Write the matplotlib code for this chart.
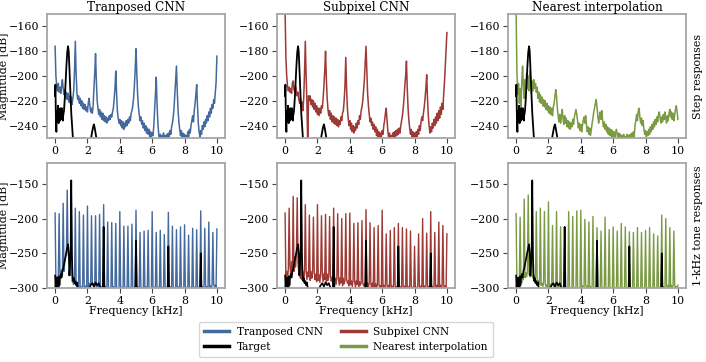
import numpy as np
import matplotlib
matplotlib.use("Agg")
import matplotlib.pyplot as plt
from matplotlib.lines import Line2D

# ---------------- data ----------------
METHODS = ["Tranposed CNN", "Subpixel CNN", "Nearest interpolation"]
ROW_LABELS = ["Step responses", "1-kHz tone responses"]
COLORS = ["#44699d", "#9e3a35", "#7a9a44"]
XTICKS = [0, 2, 4, 6, 8, 10]
YTICKS_STEP = [-160, -180, -200, -220, -240]
YTICKS_TONE = [-150, -200, -250, -300]

# analysis bins (kHz)
FREQ_KHZ = np.round(np.arange(201) * 0.05, 2)

# --- step responses (dB), one value per 0.05-kHz bin ---
step_transposed = [
    -176, -200, -208, -212, -206, -213, -209, -214, -208, -203, -210, -215, -211, -218, -213, -219, -214, -221, -216, -222,
    -217, -223, -218, -212, -196, -172, -198, -214, -219, -216, -222, -218, -224, -220, -226, -222, -227, -223, -228, -225,
    -229, -222, -218, -224, -229, -226, -230, -224, -210, -198, -182, -204, -220, -226, -231, -227, -233, -229, -235, -230,
    -236, -232, -237, -233, -238, -234, -236, -232, -235, -231, -233, -229, -226, -219, -210, -196, -214, -228, -234, -238,
    -235, -240, -236, -242, -237, -243, -238, -241, -236, -240, -235, -238, -233, -236, -230, -228, -224, -218, -208, -195,
    -178, -198, -215, -225, -231, -236, -233, -239, -236, -242, -238, -244, -240, -246, -242, -247, -243, -249, -245, -250,
    -246, -248, -240, -228, -215, -201, -222, -238, -246, -252, -247, -253, -248, -251, -246, -252, -248, -254, -247, -251,
    -246, -249, -244, -247, -241, -238, -233, -226, -215, -205, -192, -212, -228, -237, -243, -248, -244, -250, -246, -252,
    -247, -253, -248, -251, -245, -249, -243, -246, -240, -236, -232, -237, -228, -222, -215, -207, -224, -238, -245, -249,
    -244, -247, -240, -243, -237, -241, -235, -238, -232, -236, -229, -233, -226, -230, -223, -226, -219, -222, -214, -205,
    -184,
]
step_subpixel = [
    -148, -185, -200, -208, -212, -209, -213, -210, -214, -206, -204, -211, -213, -208, -212, -216, -213, -219, -222, -218,
    -225, -221, -228, -218, -198, -172, -200, -222, -258, -216, -220, -216, -223, -219, -225, -220, -227, -222, -229, -224,
    -231, -226, -232, -226, -230, -224, -226, -218, -208, -196, -180, -202, -218, -227, -232, -228, -235, -230, -237, -232,
    -238, -233, -239, -234, -240, -235, -241, -236, -239, -233, -236, -230, -228, -220, -208, -185, -210, -226, -234, -240,
    -236, -243, -238, -245, -240, -246, -241, -244, -238, -242, -236, -239, -232, -235, -228, -225, -220, -212, -203, -190,
    -176, -196, -214, -224, -231, -237, -234, -240, -237, -243, -239, -245, -241, -248, -243, -250, -245, -252, -246, -249,
    -244, -247, -240, -236, -230, -226, -236, -244, -250, -246, -253, -248, -252, -246, -251, -245, -250, -244, -248, -243,
    -247, -242, -246, -240, -236, -232, -226, -218, -208, -200, -188, -210, -226, -236, -242, -247, -243, -250, -245, -252,
    -246, -251, -245, -249, -243, -247, -240, -244, -237, -233, -236, -230, -225, -218, -210, -199, -218, -232, -240, -246,
    -241, -245, -238, -242, -235, -240, -233, -238, -230, -236, -228, -234, -225, -231, -222, -227, -215, -205, -192, -180,
    -165,
]
step_nearest = [
    -148, -195, -215, -206, -222, -210, -226, -205, -192, -208, -218, -203, -214, -198, -210, -200, -212, -196, -205, -214,
    -204, -212, -203, -210, -206, -213, -209, -218, -213, -221, -215, -222, -217, -224, -219, -225, -220, -227, -222, -228,
    -224, -230, -225, -231, -226, -232, -225, -222, -216, -211, -217, -226, -232, -237, -231, -238, -233, -227, -234, -239,
    -232, -238, -234, -241, -236, -242, -237, -243, -238, -241, -235, -239, -233, -230, -227, -231, -236, -242, -238, -244,
    -239, -245, -240, -236, -233, -238, -232, -240, -245, -241, -247, -242, -248, -243, -238, -234, -229, -226, -222, -219,
    -225, -232, -238, -233, -229, -235, -228, -236, -241, -237, -243, -239, -245, -241, -247, -242, -248, -243, -249, -244,
    -250, -245, -251, -246, -243, -247, -252, -246, -251, -247, -253, -248, -252, -247, -254, -249, -252, -247, -253, -248,
    -252, -247, -251, -246, -250, -245, -249, -240, -236, -231, -236, -228, -226, -233, -238, -234, -240, -236, -243, -247,
    -244, -249, -245, -248, -243, -247, -241, -245, -239, -243, -237, -241, -235, -239, -233, -237, -231, -229, -234, -238,
    -233, -237, -231, -235, -229, -234, -238, -232, -236, -230, -227, -233, -229, -235, -230, -236, -231, -227, -224, -229,
    -235,
]
target_step_freq = [
    0.00, 0.02, 0.04, 0.06, 0.08, 0.10, 0.12, 0.14, 0.16, 0.18, 0.20, 0.22, 0.24, 0.26, 0.28, 0.30, 0.32, 0.34,
    0.36, 0.38, 0.40, 0.42, 0.44, 0.46, 0.48, 0.50, 0.55, 0.60, 0.65, 0.70, 0.75, 0.80, 0.84, 0.88, 0.92, 0.96,
    1.00, 1.05, 1.10, 1.15, 1.20, 1.30, 1.60, 2.00, 2.15, 2.25, 2.35, 2.40, 2.45, 2.55, 2.65, 3.00,
]
target_step = [
    -216, -207, -225, -240, -245, -232, -228, -236, -230, -224, -234, -238, -227, -233, -229, -236, -226, -231,
    -235, -228, -232, -226, -234, -229, -236, -232, -228, -218, -205, -192, -181, -176, -180, -192, -205, -218,
    -230, -240, -250, -258, -265, -270, -275, -270, -258, -248, -241, -239, -242, -250, -262, -280,
]

# --- 1-kHz tone responses: harmonic peaks every 0.25 kHz (dB) ---
tone_peaks_transposed = [
    -192, -193, -178, -159, -165, -185, -190, -195, -182, -196, -196, -194, -180, -205, -206, -207, -190, -211, -211, -208,
    -188, -220, -218, -217, -190, -220, -217, -223, -191, -211, -216, -212, -209, -224, -214, -216, -189, -214, -205, -220,
    -215,
]
tone_peaks_subpixel = [
    -192, -185, -168, -170, -172, -180, -195, -198, -180, -196, -194, -197, -185, -193, -200, -193, -192, -207, -206, -203,
    -187, -206, -213, -210, -188, -222, -217, -213, -207, -213, -215, -218, -240, -222, -200, -221, -190, -220, -205, -210,
    -222,
]
tone_peaks_nearest = [
    -193, -198, -172, -166, -180, -190, -185, -190, -176, -210, -190, -212, -212, -190, -197, -189, -188, -201, -205, -197,
    -213, -218, -198, -216, -212, -218, -207, -212, -219, -220, -213, -220, -217, -213, -222, -225, -195, -200, -213, -218,
    -296,
]
# noise floor between the harmonics, one value per 0.05-kHz bin
tone_floor_transposed = [
    -282, -290, -284, -292, -280, -288, -278, -286, -274, -282, -270, -276, -262, -256, -250, -246, -248, -258, -270, -282,
    -286, -290, -292, -295, -293, -297, -294, -298, -296, -299, -297, -300, -298, -301, -297, -300, -298, -301, -297, -300,
    -295, -298, -293, -297, -294, -298, -292, -296, -294, -297, -293, -298, -295, -299, -296, -300, -297, -301, -298, -301,
    -299, -302, -298, -301, -299, -303, -298, -302, -300, -303, -299, -302, -298, -301, -300, -303, -299, -302, -300, -303,
    -298, -301, -299, -302, -298, -301, -300, -303, -299, -302, -298, -301, -299, -302, -300, -303, -298, -301, -299, -302,
    -299, -302, -298, -301, -299, -303, -298, -302, -300, -303, -299, -302, -298, -301, -300, -303, -299, -302, -300, -303,
    -298, -301, -299, -302, -298, -301, -300, -303, -299, -302, -298, -301, -299, -302, -300, -303, -298, -301, -299, -302,
    -299, -302, -298, -301, -299, -303, -298, -302, -300, -303, -299, -302, -298, -301, -300, -303, -299, -302, -300, -303,
    -298, -301, -299, -302, -298, -301, -300, -303, -299, -302, -298, -301, -299, -302, -300, -303, -298, -301, -299, -302,
    -299, -302, -298, -301, -299, -302, -297, -300, -298, -301, -296, -299, -297, -300, -296, -299, -295, -298, -296, -299,
    -298,
]
tone_floor_subpixel = [
    -282, -292, -276, -290, -272, -286, -268, -284, -262, -280, -258, -276, -255, -270, -250, -262, -265, -278, -270, -286,
    -280, -288, -276, -290, -278, -285, -274, -288, -277, -284, -273, -289, -276, -286, -279, -290, -275, -288, -280, -291,
    -278, -289, -281, -292, -277, -287, -282, -291, -279, -288, -283, -293, -280, -289, -284, -292, -281, -290, -285, -294,
    -283, -291, -286, -295, -284, -292, -287, -296, -285, -293, -288, -297, -286, -294, -289, -296, -287, -293, -290, -297,
    -288, -295, -290, -298, -289, -294, -291, -299, -290, -295, -292, -298, -291, -296, -293, -299, -292, -297, -294, -300,
    -291, -298, -293, -300, -292, -297, -294, -301, -293, -298, -295, -300, -294, -299, -296, -302, -295, -299, -297, -301,
    -294, -300, -296, -302, -295, -299, -297, -301, -296, -300, -298, -303, -297, -300, -298, -302, -296, -301, -298, -303,
    -296, -301, -298, -303, -297, -300, -299, -302, -297, -301, -299, -303, -298, -301, -299, -303, -297, -302, -299, -304,
    -297, -301, -299, -303, -296, -300, -298, -302, -297, -301, -299, -303, -297, -301, -298, -302, -296, -301, -298, -303,
    -296, -300, -298, -302, -297, -301, -298, -303, -296, -300, -297, -302, -296, -301, -298, -302, -296, -300, -297, -302,
    -297,
]
tone_floor_nearest = [
    -300, -296, -302, -294, -290, -296, -286, -292, -282, -288, -280, -285, -278, -284, -276, -282, -279, -284, -277, -283,
    -280, -286, -282, -289, -285, -291, -287, -293, -289, -295, -291, -296, -293, -298, -292, -297, -294, -299, -295, -300,
    -296, -299, -294, -300, -295, -298, -293, -299, -296, -301, -297, -300, -295, -301, -298, -302, -297, -301, -299, -303,
    -299, -302, -300, -303, -299, -302, -298, -301, -300, -303, -299, -302, -300, -303, -298, -301, -299, -302, -300, -303,
    -299, -302, -297, -300, -298, -301, -296, -299, -297, -300, -296, -299, -298, -301, -297, -300, -299, -302, -300, -303,
    -299, -302, -300, -303, -299, -302, -298, -301, -300, -303, -299, -302, -300, -303, -298, -301, -299, -302, -300, -303,
    -299, -302, -300, -303, -299, -302, -298, -301, -300, -303, -299, -302, -300, -303, -298, -301, -299, -302, -300, -303,
    -299, -302, -300, -303, -299, -302, -298, -301, -300, -303, -299, -302, -300, -303, -298, -301, -299, -302, -300, -303,
    -299, -302, -300, -303, -299, -302, -298, -301, -300, -303, -299, -302, -300, -303, -298, -301, -299, -302, -300, -303,
    -299, -302, -298, -301, -299, -302, -297, -300, -296, -299, -297, -300, -296, -299, -297, -300, -296, -299, -298, -301,
    -300,
]
target_tone_freq = [
    0.00, 0.03, 0.06, 0.09, 0.12, 0.15, 0.18, 0.21, 0.24, 0.27, 0.30, 0.35, 0.40, 0.45, 0.50, 0.55, 0.60, 0.65,
    0.70, 0.75, 0.80, 0.85, 0.88, 0.92, 0.96, 1.00, 1.04, 1.08, 1.12, 1.16, 1.20, 1.25, 1.30, 1.35, 1.40, 1.50,
    2.00, 2.20, 2.30, 2.40, 2.50, 2.60, 2.70, 2.80, 2.95, 3.00, 3.05, 3.20, 4.95, 5.00, 5.05, 6.95, 7.00, 7.05,
    8.95, 9.00, 9.05, 10.00,
]
target_tone = [
    -282, -300, -288, -302, -285, -298, -290, -300, -283, -296, -287, -280, -285, -276, -272, -266, -260, -254,
    -248, -242, -237, -250, -282, -268, -250, -145, -250, -282, -290, -286, -293, -290, -296, -292, -300, -305,
    -305, -296, -293, -298, -292, -296, -293, -300, -305, -212, -305, -310, -310, -232, -310, -310, -240, -310,
    -310, -250, -310, -310,
]


def tone_series(floor, peaks):
    vals = np.array(floor, dtype=float)
    vals[::5] = peaks  # harmonics sit on every fifth bin (0.25 kHz)
    return vals


step_series = [step_transposed, step_subpixel, step_nearest]
tone_series_all = [
    tone_series(tone_floor_transposed, tone_peaks_transposed),
    tone_series(tone_floor_subpixel, tone_peaks_subpixel),
    tone_series(tone_floor_nearest, tone_peaks_nearest),
]

# ---------------- figure ----------------
plt.rcParams["font.family"] = ["DejaVu Serif"]
fig = plt.figure(figsize=(7.06, 3.62), dpi=100)

W, H = 706.0, 362.0
col_left = [47, 277, 508]
ax_w = 178
rows = [(14, 138), (163, 288)]

SPINE = "#a6a6a6"
TICK_FS = 7.9
LABEL_FS = 7.9
TITLE_FS = 8.6
LEGEND_FS = 7.6

for r, (top, bot) in enumerate(rows):
    for c in range(3):
        ax = fig.add_axes([col_left[c] / W, 1 - bot / H, ax_w / W, (bot - top) / H])
        if r == 0:
            ax.plot(FREQ_KHZ, step_series[c], color=COLORS[c], lw=1.1)
            ax.plot(target_step_freq, target_step, color="black", lw=1.3)
            ax.set_ylim(-250, -150)
            ax.set_yticks(YTICKS_STEP)
            ax.set_title(METHODS[c], fontsize=TITLE_FS, pad=2)
        else:
            ax.plot(FREQ_KHZ, tone_series_all[c], color=COLORS[c], lw=1.0)
            ax.plot(target_tone_freq, target_tone, color="black", lw=1.2)
            ax.set_ylim(-300, -120)
            ax.set_yticks(YTICKS_TONE)
            ax.set_xlabel("Frequency [kHz]", fontsize=LABEL_FS, labelpad=0)
        ax.set_xlim(-0.5, 10.5)
        ax.set_xticks(XTICKS)
        for s in ax.spines.values():
            s.set_color(SPINE)
            s.set_linewidth(1.3)
        ax.tick_params(labelsize=TICK_FS, length=3.5, width=0.8, color="#444444", pad=2)
        if c == 0:
            ax.set_ylabel("Magnitude [dB]", fontsize=LABEL_FS, labelpad=0)
        if c == 2:
            ax.yaxis.set_label_position("right")
            ax.set_ylabel(ROW_LABELS[r], fontsize=LABEL_FS, labelpad=5)

handles = [
    Line2D([], [], color=COLORS[0], lw=2.5),
    Line2D([], [], color="black", lw=2.5),
    Line2D([], [], color=COLORS[1], lw=2.5),
    Line2D([], [], color=COLORS[2], lw=2.5),
]
labels = ["Tranposed CNN", "Target", "Subpixel CNN", "Nearest interpolation"]
leg = fig.legend(handles, labels, ncol=2, loc="lower center", bbox_to_anchor=(0.49, 0.0),
                 fontsize=LEGEND_FS, frameon=True, handlelength=2.4, columnspacing=1.7,
                 handletextpad=0.7, borderpad=0.45, labelspacing=0.5)
leg.get_frame().set_edgecolor("#cccccc")

fig.savefig("out.png", dpi=100)
